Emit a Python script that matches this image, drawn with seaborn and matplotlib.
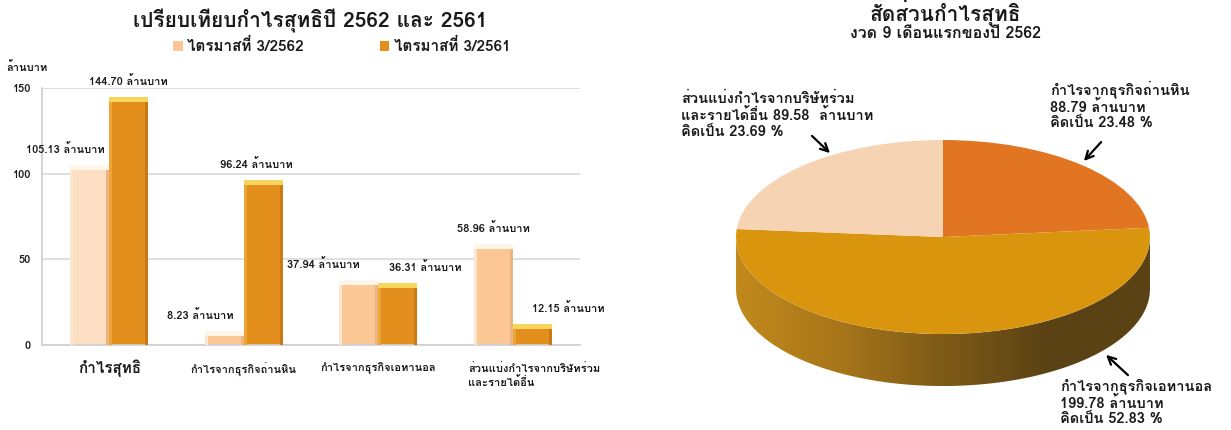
import numpy as np
import pandas as pd
import matplotlib
matplotlib.use("Agg")
import matplotlib.pyplot as plt
from matplotlib import font_manager
from matplotlib.ft2font import FT2Font
from matplotlib.patches import Polygon, Rectangle, FancyArrowPatch
from matplotlib.colors import LinearSegmentedColormap
import seaborn as sns

# ---------------- data ----------------
categories = ["กำไรสุทธิ", "กำไรจากธุรกิจถ่านหิน", "กำไรจากธุรกิจเอทานอล",
              "ส่วนแบ่งกำไรจากบริษัทร่วม\nและรายได้อื่น"]
series_names = ["ไตรมาสที่ 3/2562", "ไตรมาสที่ 3/2561"]
q3_2562 = [105.13, 8.23, 37.94, 58.96]
q3_2561 = [144.70, 96.24, 36.31, 12.15]
y_ticks = [0, 50, 100, 150]

pie_labels = ["กำไรจากธุรกิจถ่านหิน", "กำไรจากธุรกิจเอทานอล",
              "ส่วนแบ่งกำไรจากบริษัทร่วม\nและรายได้อื่น"]
pie_values = [88.79, 199.78, 89.58]
pie_percents = [23.48, 52.83, 23.69]

# ---------------- fonts ----------------
sns.set_theme(style="whitegrid")

available = {f.name for f in font_manager.fontManager.ttflist}
thai = None
for cand in ["Tahoma", "Loma", "Sarabun", "Noto Sans Thai Looped", "Noto Sans Thai",
             "Garuda", "Norasi"]:
    if cand in available:
        thai = cand
        break
if thai is None:
    best = 0
    for f in font_manager.fontManager.ttflist:
        try:
            cm = FT2Font(f.fname).get_charmap()
        except Exception:
            continue
        n = sum(1 for c in range(0x0E01, 0x0E3B) if c in cm)
        if n > best:
            best, thai = n, f.name
fams = ([thai] if thai else []) + ["DejaVu Sans"]
plt.rcParams["font.family"] = fams
plt.rcParams["axes.unicode_minus"] = False

W, H = 1231, 430
fig = plt.figure(figsize=(W / 100, H / 100), dpi=100)


def fx(x):
    return x / W


def fy(y):
    return 1 - y / H


TXT = "#1a1a1a"

# ---------------- bar chart ----------------
ax = fig.add_axes([fx(42), fy(345), fx(580) - fx(42), fy(88) - fy(345)])
df = pd.DataFrame({
    "category": categories * 2,
    "series": [series_names[0]] * 4 + [series_names[1]] * 4,
    "value": q3_2562 + q3_2561,
})
light = "#FBC795"
dark = "#E28F1E"
sns.barplot(data=df, x="category", y="value", hue="series",
            palette=[light, dark], width=0.58, ax=ax, legend=True,
            edgecolor="none", saturation=1)

light_bars = list(ax.containers[0])
dark_bars = list(ax.containers[1])
light_bars[0].set_facecolor("#FDDFC3")

for b in light_bars + dark_bars:
    x0, w, h = b.get_x(), b.get_width(), b.get_height()
    is_dark = b in dark_bars
    cap = "#F6D65A" if is_dark else "#FFF6EA"
    side_l = "#EDA538" if is_dark else "#FDE6CF"
    side_r = "#C97A14" if is_dark else "#EDB585"
    ax.add_patch(Rectangle((x0, 0), w * 0.08, h, color=side_l, lw=0, zorder=3))
    ax.add_patch(Rectangle((x0 + w * 0.92, 0), w * 0.08, h, color=side_r, lw=0, zorder=3))
    ax.add_patch(Rectangle((x0, h - 3), w, 3, color=cap, lw=0, zorder=3))

# value labels
offsets_2562 = [-24, -24, -35, 0]
offsets_2561 = [0, -7, 28, 36]
for bars_set, vals, offs in ((light_bars, q3_2562, offsets_2562),
                              (dark_bars, q3_2561, offsets_2561)):
    for b, v, dx in zip(bars_set, vals, offs):
        ax.annotate(f"{v:.2f} ล้านบาท", (b.get_x() + b.get_width() / 2, v),
                    xytext=(dx * 0.72, 7), textcoords="offset points",
                    ha="center", va="bottom", fontsize=8, fontweight="bold",
                    color=TXT)

ax.set_ylim(0, 150)
ax.set_xlim(-0.5, 3.5)
ax.set_yticks(y_ticks)
ax.set_yticklabels([str(t) for t in y_ticks], fontsize=8, fontweight="bold",
                   color=TXT)
ax.set_xlabel("")
ax.set_ylabel("")
ax.set_xticks(range(4))
ax.set_xticklabels([""] * 4)
ax.grid(axis="y", color="#D9D9D9", lw=1.2)
ax.grid(axis="x", visible=False)
for s in ["top", "right"]:
    ax.spines[s].set_visible(False)
ax.spines["left"].set_color("#D0D0D0")
ax.spines["bottom"].set_color("#D0D0D0")
ax.tick_params(axis="y", length=0, pad=8)
ax.tick_params(axis="x", length=0)
ax.set_facecolor("white")

# category labels
tr = ax.get_xaxis_transform()
ax.text(0, -0.055, categories[0], transform=tr, ha="center", va="top",
        fontsize=11, fontweight="bold", color=TXT)
ax.text(1, -0.07, categories[1], transform=tr, ha="center", va="top",
        fontsize=8, fontweight="bold", color=TXT)
ax.text(2, -0.07, categories[2], transform=tr, ha="center", va="top",
        fontsize=8, fontweight="bold", color=TXT)
ax.text(2.67, -0.07, categories[3], transform=tr, ha="left", va="top",
        fontsize=8, fontweight="bold", color=TXT, linespacing=1.3)

leg = ax.legend(loc="center", bbox_to_anchor=(fx(342), fy(46)),
                bbox_transform=fig.transFigure, ncol=2, frameon=False,
                handlelength=0.6, handleheight=0.6, columnspacing=5.0,
                handletextpad=0.3, borderpad=0.1,
                prop={"size": 11, "weight": "bold"})
for t in leg.get_texts():
    t.set_color(TXT)

fig.text(fx(310), fy(21), "เปรียบเทียบกำไรสุทธิปี 2562 และ 2561", ha="center",
         va="center", fontsize=15, fontweight="bold", color=TXT)
fig.text(fx(6), fy(67), "ล้านบาท", ha="left", va="center", fontsize=8,
         fontweight="bold", color=TXT)

# ---------------- pie chart ----------------
pax = fig.add_axes([fx(735), fy(400), fx(1151) - fx(735), fy(130) - fy(400)])
depth = 0.536
pie_colors = ["#E27522", "#DA950F", "#F6D3B2"]

t = np.linspace(np.pi, 2 * np.pi, 300)
xs = np.concatenate([np.cos(t), np.cos(t[::-1])])
ys = np.concatenate([np.sin(t) - depth, np.sin(t[::-1])])
side = Polygon(np.column_stack([xs, ys]), closed=True, facecolor="none",
               edgecolor="none")
pax.add_patch(side)
grad = np.linspace(0, 1, 256)[None, :]
cmap = LinearSegmentedColormap.from_list(
    "side", ["#C28A1C", "#A8761A", "#7E5A17", "#5C4314", "#5A4214"])
im = pax.imshow(grad, cmap=cmap, extent=(-1, 1, -1 - depth, 0),
                aspect="auto", zorder=1)
im.set_clip_path(side)

wedges, _ = pax.pie(pie_values, colors=pie_colors, startangle=90,
                    counterclock=False, radius=1.0,
                    wedgeprops={"linewidth": 0})
for w in wedges:
    w.set_zorder(2)
pax.set_aspect("auto")
pax.set_xlim(-1.005, 1.005)
pax.set_ylim(-1.68, 1.103)
pax.axis("off")

lbl_kw = dict(fontsize=10.5, fontweight="bold", color=TXT,
              linespacing=1.15, ha="left", va="top")
fig.text(fx(1050), fy(80),
         f"{pie_labels[0]}\n{pie_values[0]:.2f} ล้านบาท\nคิดเป็น {pie_percents[0]:.2f} %",
         **lbl_kw)
fig.text(fx(681), fy(92),
         "ส่วนแบ่งกำไรจากบริษัทร่วม\nและรายได้อื่น "
         f"{pie_values[2]:.2f}  ล้านบาท\nคิดเป็น {pie_percents[2]:.2f} %",
         **lbl_kw)
fig.text(fx(1060), fy(378),
         f"{pie_labels[1]}\n{pie_values[1]:.2f} ล้านบาท\nคิดเป็น {pie_percents[1]:.2f} %",
         **lbl_kw)

arrow_kw = dict(arrowstyle="->", color="black", lw=1.6, mutation_scale=14)
fig.add_artist(FancyArrowPatch(
    (fx(1103), fy(140)), (fx(1082), fy(163)), transform=fig.transFigure, **arrow_kw))
fig.add_artist(FancyArrowPatch(
    (fx(810), fy(134)), (fx(832), fy(155)), transform=fig.transFigure, **arrow_kw))
fig.add_artist(FancyArrowPatch(
    (fx(1130), fy(377)), (fx(1104), fy(353)), transform=fig.transFigure, **arrow_kw))

fig.text(fx(945), fy(13), "สัดส่วนกำไรสุทธิ", ha="center", va="center",
         fontsize=15, fontweight="bold", color=TXT)
fig.text(fx(945), fy(34), "งวด 9 เดือนแรกของปี 2562", ha="center", va="center",
         fontsize=11.5, fontweight="bold", color=TXT)

fig.savefig("out.png", dpi=100, facecolor="white")
